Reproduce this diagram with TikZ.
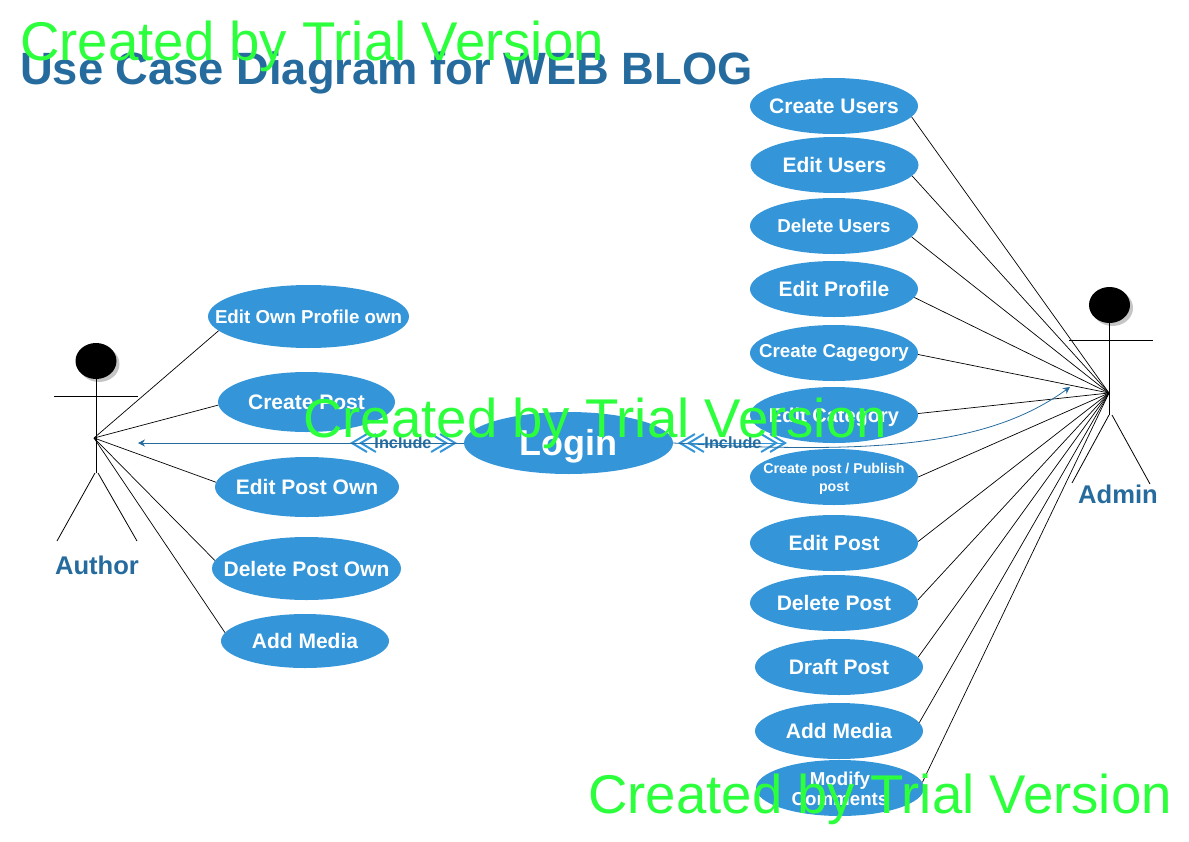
\documentclass[tikz,border=0pt]{standalone}
\usepackage{fontspec}
\setmainfont{Liberation Sans}
\usetikzlibrary{arrows.meta, shapes.geometric, shadows}
\definecolor{caseBlue}{RGB}{52, 150, 217}
\definecolor{labelBlue}{RGB}{38, 107, 158}
\definecolor{trialGreen}{RGB}{44, 255, 60}
\newcommand{\px}[1]{\fontsize{#1}{#1}\selectfont}
\newcommand{\oneline}[1]{\makebox[0pt]{#1}}
\newcommand{\twolines}[3]{\makebox[0pt]{\begin{tabular}{@{}c@{}}#1\\[#3]#2\end{tabular}}}

\begin{document}
\begin{tikzpicture}[
    x=1pt, y=-1pt,
    usecase/.style={
      ellipse, fill=caseBlue, inner sep=0pt, text=white,
      minimum width=168pt, minimum height=56pt, font=\px{21}\bfseries
    },
    smallcase/.style={usecase, font=\px{18.7}\bfseries},
    head/.style={
      ellipse, fill=black, inner sep=0pt, minimum width=41pt, minimum height=36pt,
      drop shadow={shadow xshift=3pt, shadow yshift=-3pt, fill=black!45}
    },
    actorname/.style={font=\px{25.6}\bfseries, text=labelBlue},
    stick/.style={black, line width=0.8pt},
    assoc/.style={black, line width=0.7pt},
    includeline/.style={
      {Straight Barb[length=15pt, width=18pt, line width=2pt]Straight Barb[length=15pt, width=18pt, line width=2pt, sep=-9pt]}-{Straight Barb[length=15pt, width=18pt, line width=2pt, sep=-9pt]Straight Barb[length=15pt, width=18pt, line width=2pt]},
      caseBlue, line width=1pt
    },
    flow/.style={-{Stealth[length=7pt, width=7pt]}, labelBlue, line width=0.8pt},
    includelabel/.style={font=\px{16.3}\bfseries, text=labelBlue},
    trial/.style={anchor=base west, inner sep=0pt, font=\px{54.6}, text=trialGreen},
  ]
    \useasboundingbox (0,0) rectangle (1189,841);

    \node[anchor=base west, inner sep=0pt, font=\px{45.3}\bfseries, text=labelBlue] (title) at (20,84) {Use Case Diagram for WEB BLOG};

    % Author side
    \node[head] (authorHead) at (96,361) {};
    \coordinate (authorHub) at (94,438);
    \coordinate (authorHip) at (96,473);
    \draw[stick] (authorHead) -- (authorHip);
    \draw[stick] (54,396) -- (138,396);
    \draw[stick] (95,473) -- (57,541);
    \draw[stick] (98,473) -- (137,541);
    \node[actorname] (author) at (97,565) {Author};

    \node[smallcase, minimum width=201pt, minimum height=63pt] (ownProfile) at (308.5,316.5) {\oneline{Edit Own Profile own}};
    \node[usecase, minimum width=177pt, minimum height=60pt] (ownCreate) at (306.5,402) {\oneline{Create Post}};
    \node[usecase, minimum width=184pt, minimum height=60pt] (ownEdit) at (307,487) {\oneline{Edit Post Own}};
    \node[usecase, minimum width=189pt, minimum height=63pt] (ownDelete) at (306.5,568.5) {\oneline{Delete Post Own}};
    \node[usecase, minimum height=54pt] (ownMedia) at (305,641) {\oneline{Add Media}};

    \foreach \i/\a in {ownProfile/189, ownCreate/182, ownEdit/177, ownDelete/175, ownMedia/174} {
      \draw[assoc] (authorHub) -- (\i.\a);
    }

    % Login
    \node[usecase, minimum width=209pt, minimum height=62pt, font=\px{36}\bfseries, text height=24.6pt, text depth=0pt] (login) at (568.5,443) {\oneline{Login}};

    % Admin side
    \node[head] (adminHead) at (1109.5,305) {};
    \coordinate (adminHub) at (1109,393);
    \coordinate (adminHip) at (1109.5,415);
    \draw[stick] (adminHead) -- (adminHip);
    \draw[stick] (1069,340) -- (1153,340);
    \draw[stick] (1109,415) -- (1072,483);
    \draw[stick] (1112,415) -- (1150,484);
    \node[actorname] (admin) at (1118,494) {Admin};

    \node[usecase] (createUsers) at (834,106) {\oneline{Create Users}};
    \node[usecase] (editUsers) at (834.5,165) {\oneline{Edit Users}};
    \node[smallcase] (deleteUsers) at (834,226) {\oneline{Delete Users}};
    \node[usecase] (editProfile) at (834,289) {\oneline{Edit Profile}};
    \node[smallcase] (createCategory) at (834,353) {\oneline{Create Cagegory}};
    \node[usecase, font=\px{20}\bfseries, text height=14.4pt, text depth=0pt] (editCategory) at (834,415) {\oneline{Edit Category}};
    \node[usecase, font=\px{14.2}\bfseries, text height=13pt, text depth=0pt] (createPost) at (834,477) {\twolines{Create post / Publish}{post}{3.8pt}};
    \node[usecase] (editPost) at (834,543) {\oneline{Edit Post}};
    \node[usecase] (deletePost) at (834,603) {\oneline{Delete Post}};
    \node[usecase] (draftPost) at (839,667) {\oneline{Draft Post}};
    \node[usecase] (addMedia) at (839,731) {\oneline{Add Media}};
    \node[smallcase, text height=15.4pt, text depth=0pt] (modifyComments) at (840,788) {\twolines{Modify}{Comments}{1.3pt}};

    \foreach \i/\a in {createUsers/-8, editUsers/-8, deleteUsers/-8, editProfile/-6, createCategory/-1, editCategory/1, createPost/0, editPost/1, deletePost/2, draftPost/7, addMedia/6, modifyComments/4} {
      \draw[assoc] (adminHub) -- (\i.\a);
    }

    % Include arrows
    \coordinate (incLeftA) at (350,443);
    \coordinate (incLeftB) at (457,443);
    \coordinate (incRightA) at (678,443);
    \coordinate (incRightB) at (787,443);
    \draw[includeline] (incLeftA) -- (incLeftB);
    \draw[includeline] (incRightA) -- (incRightB);
    \coordinate (authorTip) at (138,443);
    \coordinate (adminTip) at (1070,387);
    \draw[flow] (login.west) -- (authorTip);
    \draw[flow] (login.east) .. controls (880,455) and (990,445) .. (adminTip);
    \node[includelabel] (includeLeft) at (403,443) {Include};
    \node[includelabel] (includeRight) at (733,443) {Include};

    % Trial stamps
    \node[trial] (trialTop) at (20,60) {Created by Trial Version};
    \node[trial] (trialMid) at (303,437) {Created by Trial Version};
    \node[trial] (trialLow) at (588,813) {Created by Trial Version};
  \end{tikzpicture}
\end{document}
